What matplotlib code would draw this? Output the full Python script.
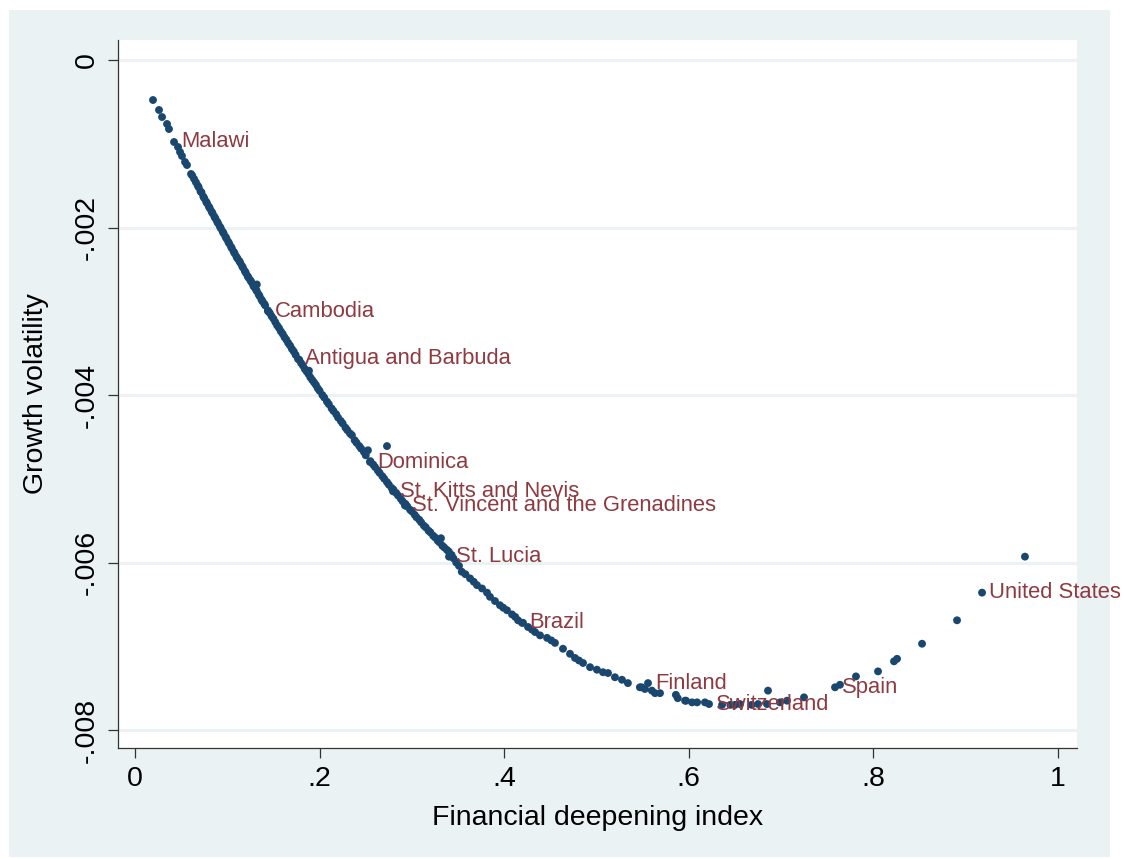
import numpy as np
import matplotlib
matplotlib.use("Agg")
import matplotlib.pyplot as plt
from matplotlib.patches import Rectangle

# Financial deepening index (x) and growth volatility (y, in thousandths)
fin_index = [
    0.0195, 0.0260, 0.0293, 0.0347, 0.0368, 0.0423, 0.0466, 0.0488, 0.0509, 0.0542,
    0.0563, 0.0607, 0.062, 0.064, 0.066, 0.068, 0.069, 0.071, 0.072, 0.074,
    0.075, 0.077, 0.078, 0.080, 0.081, 0.083, 0.084, 0.086, 0.087, 0.089,
    0.090, 0.092, 0.093, 0.095, 0.096, 0.098, 0.099, 0.101, 0.102, 0.104,
    0.105, 0.107, 0.108, 0.110, 0.111, 0.113, 0.114, 0.116, 0.117, 0.119,
    0.120, 0.122, 0.123, 0.125, 0.126, 0.128, 0.129, 0.131, 0.132, 0.132,
    0.134, 0.135, 0.137, 0.138, 0.140, 0.141, 0.1441, 0.144, 0.146, 0.148,
    0.150, 0.152, 0.154, 0.156, 0.158, 0.160, 0.162, 0.164, 0.166, 0.168,
    0.170, 0.172, 0.174, 0.1766, 0.178, 0.180, 0.182, 0.184, 0.186, 0.1885,
    0.188, 0.190, 0.192, 0.194, 0.196, 0.198, 0.200, 0.203, 0.205, 0.208,
    0.210, 0.213, 0.215, 0.218, 0.220, 0.223, 0.225, 0.228, 0.230, 0.233,
    0.235, 0.238, 0.240, 0.243, 0.245, 0.248, 0.250, 0.2524, 0.2546, 0.255,
    0.258, 0.260, 0.263, 0.265, 0.268, 0.270, 0.273, 0.273, 0.275, 0.278,
    0.2795, 0.280, 0.283, 0.285, 0.288, 0.290, 0.2925, 0.293, 0.295, 0.298,
    0.300, 0.303, 0.305, 0.308, 0.310, 0.313, 0.315, 0.318, 0.320, 0.323,
    0.325, 0.328, 0.330, 0.3315, 0.333, 0.335, 0.338, 0.3402, 0.340, 0.343,
    0.345, 0.348, 0.351, 0.354, 0.358, 0.363, 0.367, 0.3705, 0.376, 0.3814,
    0.3846, 0.390, 0.3954, 0.399, 0.403, 0.4085, 0.412, 0.415, 0.4193, 0.4204,
    0.4258, 0.430, 0.4334, 0.4388, 0.4464, 0.451, 0.455, 0.4637, 0.4713, 0.4767,
    0.481, 0.4854, 0.493, 0.5005, 0.507, 0.5125, 0.520, 0.5276, 0.534, 0.547,
    0.549, 0.5525, 0.5558, 0.560, 0.5634, 0.5688, 0.586, 0.588, 0.5959, 0.597,
    0.6035, 0.609, 0.6175, 0.6219, 0.636, 0.645, 0.650, 0.6555, 0.668, 0.675,
    0.6847, 0.6858, 0.6988, 0.7064, 0.7248, 0.7584, 0.7638, 0.7811, 0.805, 0.8223,
    0.8256, 0.8527, 0.8906, 0.9177, 0.9642,
]
volatility_e3 = [
    -0.478, -0.597, -0.681, -0.764, -0.824, -0.979, -1.039, -1.099, -1.146, -1.218,
    -1.254, -1.361, -1.38, -1.42, -1.46, -1.50, -1.52, -1.57, -1.58, -1.63,
    -1.65, -1.69, -1.71, -1.75, -1.77, -1.81, -1.83, -1.87, -1.89, -1.93,
    -1.95, -1.99, -2.01, -2.05, -2.07, -2.11, -2.13, -2.17, -2.19, -2.23,
    -2.25, -2.29, -2.31, -2.35, -2.37, -2.40, -2.42, -2.46, -2.48, -2.52,
    -2.54, -2.58, -2.60, -2.63, -2.65, -2.69, -2.71, -2.74, -2.68, -2.76,
    -2.80, -2.82, -2.86, -2.88, -2.91, -2.93, -3.00, -2.99, -3.02, -3.06,
    -3.09, -3.13, -3.17, -3.20, -3.24, -3.27, -3.31, -3.34, -3.38, -3.41,
    -3.45, -3.48, -3.52, -3.57, -3.58, -3.62, -3.65, -3.69, -3.72, -3.71,
    -3.75, -3.79, -3.82, -3.85, -3.88, -3.92, -3.95, -4.00, -4.03, -4.08,
    -4.11, -4.16, -4.19, -4.23, -4.27, -4.31, -4.34, -4.39, -4.42, -4.46,
    -4.48, -4.54, -4.57, -4.61, -4.64, -4.68, -4.72, -4.66, -4.80, -4.79,
    -4.83, -4.86, -4.90, -4.93, -4.97, -5.00, -4.61, -5.04, -5.07, -5.11,
    -5.15, -5.13, -5.17, -5.20, -5.24, -5.27, -5.32, -5.30, -5.33, -5.37,
    -5.39, -5.43, -5.46, -5.49, -5.52, -5.56, -5.58, -5.62, -5.64, -5.68,
    -5.70, -5.74, -5.76, -5.71, -5.80, -5.82, -5.85, -5.93, -5.87, -5.91,
    -5.95, -6.00, -6.04, -6.11, -6.14, -6.19, -6.23, -6.27, -6.31, -6.36,
    -6.41, -6.46, -6.51, -6.54, -6.57, -6.62, -6.65, -6.69, -6.72, -6.72,
    -6.77, -6.80, -6.83, -6.87, -6.90, -6.93, -6.96, -7.03, -7.09, -7.14,
    -7.17, -7.20, -7.25, -7.28, -7.31, -7.32, -7.37, -7.40, -7.44, -7.49,
    -7.49, -7.51, -7.44, -7.53, -7.56, -7.56, -7.58, -7.62, -7.65, -7.65,
    -7.67, -7.67, -7.67, -7.69, -7.70, -7.70, -7.70, -7.69, -7.70, -7.69,
    -7.69, -7.53, -7.67, -7.65, -7.61, -7.49, -7.46, -7.36, -7.30, -7.18,
    -7.15, -6.97, -6.69, -6.36, -5.93,
]

# Labelled countries
label_names = ["Malawi", "Cambodia", "Antigua and Barbuda", "Dominica",
               "St. Kitts and Nevis", "St. Vincent and the Grenadines",
               "St. Lucia", "Brazil", "Finland", "Switzerland", "Spain",
               "United States"]
label_x = [0.0423, 0.1441, 0.1766, 0.2546, 0.2795, 0.2925,
           0.3402, 0.4193, 0.5558, 0.6219, 0.7584, 0.9177]
label_y_e3 = [-0.979, -3.00, -3.57, -4.80, -5.15, -5.32,
              -5.93, -6.72, -7.44, -7.69, -7.49, -6.36]

x_ticks = [0, 0.2, 0.4, 0.6, 0.8, 1.0]
x_tick_labels = ["0", ".2", ".4", ".6", ".8", "1"]
y_ticks = [0, -0.002, -0.004, -0.006, -0.008]
y_tick_labels = ["0", "-.002", "-.004", "-.006", "-.008"]

plt.rcParams["font.family"] = ["Liberation Sans", "DejaVu Sans"]

navy = "#1a476f"
maroon = "#8e3a40"
region = "#eaf2f3"

fig = plt.figure(figsize=(11.24, 8.59), dpi=100)
fig.patch.set_facecolor("white")
fig.add_artist(Rectangle((9 / 1124, 2 / 859), 1101 / 1124, 847 / 859,
                         transform=fig.transFigure, facecolor=region,
                         edgecolor="none", zorder=-10))

ax = fig.add_axes([118 / 1124, 1 - 748 / 859, 959 / 1124, 708 / 859])
ax.set_facecolor("white")

x = np.array(fin_index)
y = np.array(volatility_e3) / 1000
ax.scatter(x, y, s=32, color=navy, edgecolors="none", zorder=3)

for name, lx, ly in zip(label_names, label_x, label_y_e3):
    ax.annotate(name, (lx, ly / 1000), xytext=(7, 0), textcoords="offset pixels",
                ha="left", va="center", color=maroon, fontsize=15.8, zorder=4)

ax.set_xlim(-0.01842, 1.02058)
ax.set_ylim(-0.0082149, 0.0002388)

ax.set_xticks(x_ticks)
ax.set_xticklabels(x_tick_labels)
ax.set_yticks(y_ticks)
ax.set_yticklabels(y_tick_labels, rotation=90, va="center")

ax.tick_params(axis="both", direction="out", length=7, width=0.9,
               color="#333333", labelsize=20.5, pad=6)
ax.yaxis.grid(True, color=region, linewidth=2.2, zorder=0)
ax.set_axisbelow(True)

for side in ["top", "right"]:
    ax.spines[side].set_visible(False)
for side in ["left", "bottom"]:
    ax.spines[side].set_color("#333333")
    ax.spines[side].set_linewidth(0.9)

ax.set_xlabel("Financial deepening index", fontsize=20.5, labelpad=9)
ax.set_ylabel("Growth volatility", fontsize=20.5, labelpad=18)

fig.savefig("out.png", dpi=100, facecolor=fig.get_facecolor())
